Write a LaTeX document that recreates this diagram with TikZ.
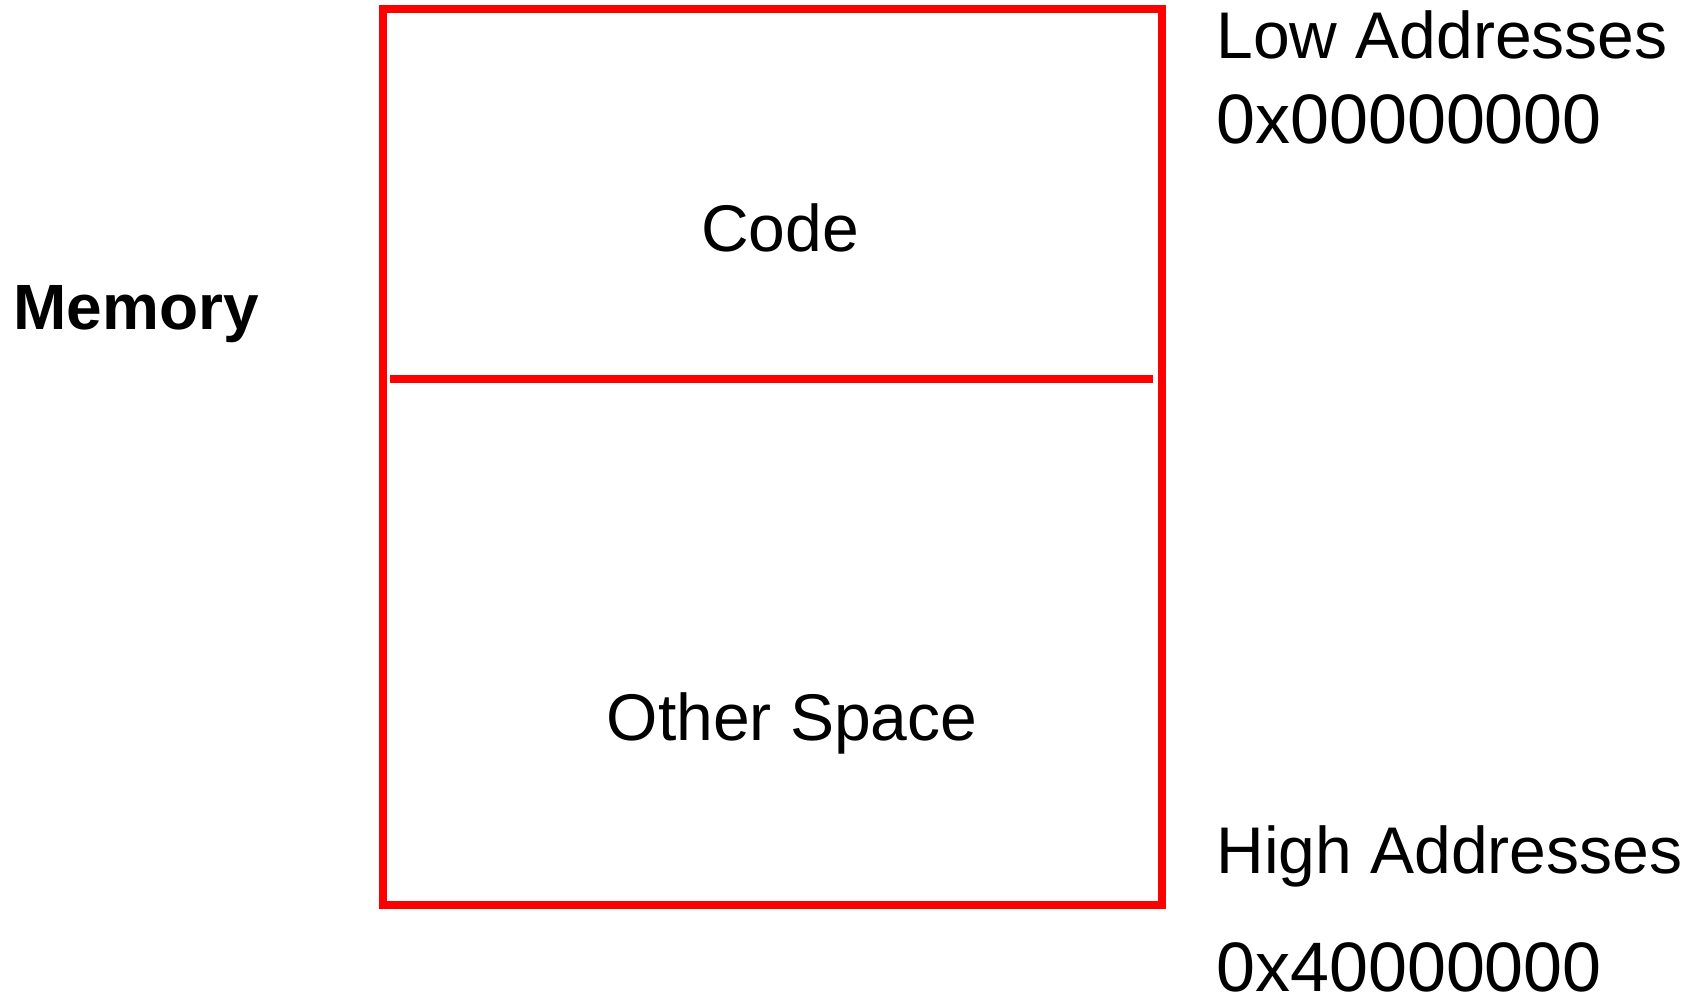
\documentclass[tikz,border=0pt]{standalone}
\usepackage{fontspec}
\setmainfont{Liberation Sans}
\definecolor{memred}{RGB}{255,0,0}
\tikzset{
  px/.style={x=0.5pt,y=-0.5pt},
  memline/.style={draw=memred,line width=4pt},
  lbl/.style={inner sep=0pt,font=\fontsize{33}{40}\selectfont},
  hexlbl/.style={lbl,font=\fontsize{35}{40}\selectfont},
}
\begin{document}
\begin{tikzpicture}[px]
\useasboundingbox (0,0) rectangle (1705,1004);
\draw[memline] (382.5,9) rectangle (1162,905);
\coordinate (dl) at (390,379);
\coordinate (dr) at (1153,379);
\draw[memline] (dl) -- (dr);
\node[lbl,anchor=base] (code) at (780,252) {Code};
\node[lbl,anchor=base] (other) at (792,741) {Other Space};
\node[lbl,anchor=base west,font=\fontsize{32}{40}\selectfont\bfseries] (mem) at (13,330) {Memory};
\node[lbl,anchor=base west] (low) at (1216,59) {Low Addresses};
\node[hexlbl,anchor=base west] (lowa) at (1216,144) {0x00000000};
\node[lbl,anchor=base west] (high) at (1216,874) {High Addresses};
\node[hexlbl,anchor=base west] (higha) at (1216,992) {0x40000000};
\end{tikzpicture}
\end{document}
